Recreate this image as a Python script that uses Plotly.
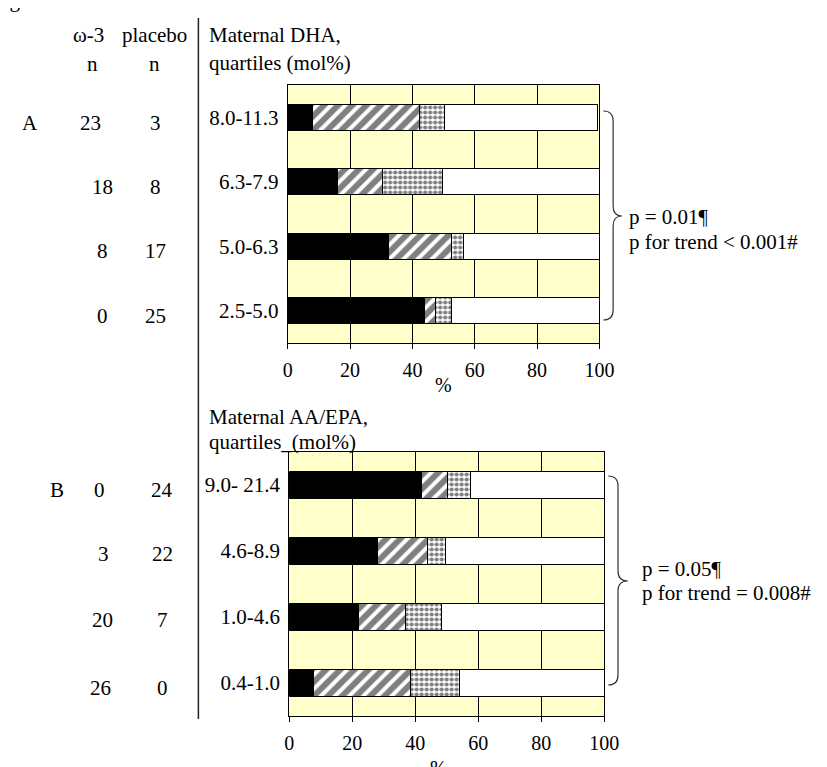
import plotly.graph_objects as go

# ---------------- data ----------------
quartiles_A = ["8.0-11.3", "6.3-7.9", "5.0-6.3", "2.5-5.0"]
quartiles_B = ["9.0- 21.4", "4.6-8.9", "1.0-4.6", "0.4-1.0"]

n_omega3_A = ["23", "18", "8", "0"]
n_placebo_A = ["3", "8", "17", "25"]
n_omega3_B = ["0", "3", "20", "26"]
n_placebo_B = ["24", "22", "7", "0"]

# stacked segment widths (%) : solid black, hatched, dotted, white
A_black = [7.8, 16.0, 32.4, 44.0]
A_hatch = [34.5, 14.5, 20.0, 3.4]
A_dot = [8.0, 19.3, 4.0, 5.0]
A_white = [49.2, 50.2, 43.6, 47.6]

B_black = [42.0, 27.9, 21.9, 7.7]
B_hatch = [8.3, 16.0, 15.1, 30.9]
B_dot = [7.3, 5.7, 11.2, 15.5]
B_white = [42.4, 50.4, 51.8, 45.9]

x_ticks = [0, 20, 40, 60, 80, 100]
p_text_A = ["p = 0.01\u00b6", "p for trend < 0.001#"]
p_text_B = ["p = 0.05\u00b6", "p for trend = 0.008#"]

# ---------------- helpers ----------------
W, H = 827, 767
FONT = "Liberation Serif"


def px(x):
    return x / W


def py(y):
    return 1 - y / H


styles = [
    dict(color="black", line=dict(color="black", width=1)),
    dict(color="white", line=dict(color="black", width=1),
         pattern=dict(shape="/", fgcolor="black", bgcolor="white", size=10, solidity=0.6)),
    dict(color="white", line=dict(color="black", width=1),
         pattern=dict(shape=".", fgcolor="black", bgcolor="white", size=5, solidity=0.55)),
    dict(color="white", line=dict(color="black", width=1)),
]

fig = go.Figure()
for vals, st in zip([A_black, A_hatch, A_dot, A_white], styles):
    fig.add_trace(go.Bar(y=quartiles_A, x=vals, orientation="h", marker=st,
                         xaxis="x", yaxis="y", showlegend=False))
for vals, st in zip([B_black, B_hatch, B_dot, B_white], styles):
    fig.add_trace(go.Bar(y=quartiles_B, x=vals, orientation="h", marker=st,
                         xaxis="x2", yaxis="y2", showlegend=False))

tickfont = dict(family=FONT, size=20, color="black")
common_x = dict(range=[0, 100], tickvals=x_ticks, ticks="outside", ticklen=5,
                tickcolor="black", showgrid=True, gridcolor="black", gridwidth=1,
                showline=True, mirror=True, linecolor="black", linewidth=1,
                zeroline=False, tickfont=tickfont, ticklabelstandoff=4, fixedrange=True)
common_y = dict(type="category", autorange="reversed", showgrid=False,
                showline=True, mirror=True, linecolor="black", linewidth=1,
                ticks="outside", ticklen=4, tickcolor="rgba(0,0,0,0)",
                tickfont=dict(family=FONT, size=21, color="black"), fixedrange=True)

fig.update_layout(
    width=W, height=H,
    margin=dict(l=0, r=0, t=0, b=0),
    paper_bgcolor="white",
    plot_bgcolor="#FFFFCC",
    barmode="stack",
    bargap=0.6,
    showlegend=False,
    font=dict(family=FONT, size=21, color="black"),
    xaxis=dict(domain=[px(281.5), px(601)], anchor="y", **common_x),
    yaxis=dict(domain=[py(335), py(77)], anchor="x", categoryorder="array",
               categoryarray=quartiles_A, **common_y),
    xaxis2=dict(domain=[px(283), px(606)], anchor="y2", **common_x),
    yaxis2=dict(domain=[py(708), py(444)], anchor="x2", categoryorder="array",
                categoryarray=quartiles_B, **common_y),
)


def ann(text, x, y, xanchor="center", size=21):
    fig.add_annotation(text=text, x=px(x), y=py(y), xref="paper", yref="paper",
                       xanchor=xanchor, yanchor="middle", showarrow=False,
                       font=dict(family=FONT, size=size, color="black"))


# cut-off figure caption at the very top
ann("Figure 2", -24, -8.5, xanchor="left")

# header
ann("\u03c9-3", 77, 27)
ann("placebo", 145, 27)
ann("n", 81, 56)
ann("n", 145, 56)
ann("Maternal DHA,", 199, 27, xanchor="left")
ann("quartiles (mol%)", 199, 55, xanchor="left")
ann("Maternal AA/EPA,", 199, 409, xanchor="left")
ann("quartiles_(mol%)", 199, 434, xanchor="left")

# panel letters and n columns
ann("A", 17, 115)
ann("B", 45, 482)
rowsA = [115, 179, 243, 308]
rowsB = [482, 546, 612, 680]
xA_omega = [79, 92, 92, 92]
xB_omega = [89, 93, 92, 90]
for i in range(4):
    ann(n_omega3_A[i], xA_omega[i], rowsA[i])
    ann(n_placebo_A[i], 146, rowsA[i])
    ann(n_omega3_B[i], xB_omega[i], rowsB[i])
    ann(n_placebo_B[i], 153, rowsB[i])

# axis titles
ann("%", 441, 377, size=20)
ann("%", 436, 760, size=20)

# p-value texts
ann(p_text_A[0], 629, 209, xanchor="left")
ann(p_text_A[1], 629, 234, xanchor="left")
ann(p_text_B[0], 643, 561, xanchor="left")
ann(p_text_B[1], 643, 585, xanchor="left")

# vertical separator line
fig.add_shape(type="line", xref="paper", yref="paper",
              x0=px(190), x1=px(190), y0=py(10), y1=py(711),
              line=dict(color="#222222", width=1.5))


def brace(x0, xm, xt, y0, ym, y1, r=10):
    pts = [
        (x0, y0), (xm, y0), (xm, y0 + r),
        (xm, ym - r), (xm, ym), (xt, ym),
        (xm, ym), (xm, ym + r),
        (xm, y1 - r), (xm, y1), (x0, y1),
    ]
    P = [f"{px(a):.5f},{py(b):.5f}" for a, b in pts]
    path = (f"M {P[0]} Q {P[1]} {P[2]} L {P[3]} Q {P[4]} {P[5]} "
            f"Q {P[6]} {P[7]} L {P[8]} Q {P[9]} {P[10]}")
    fig.add_shape(type="path", xref="paper", yref="paper", path=path,
                  line=dict(color="#333333", width=1.2))


brace(605, 615, 624, 103, 208, 312)
brace(610, 620, 630, 468, 573, 677)

fig.write_html("out.html")
